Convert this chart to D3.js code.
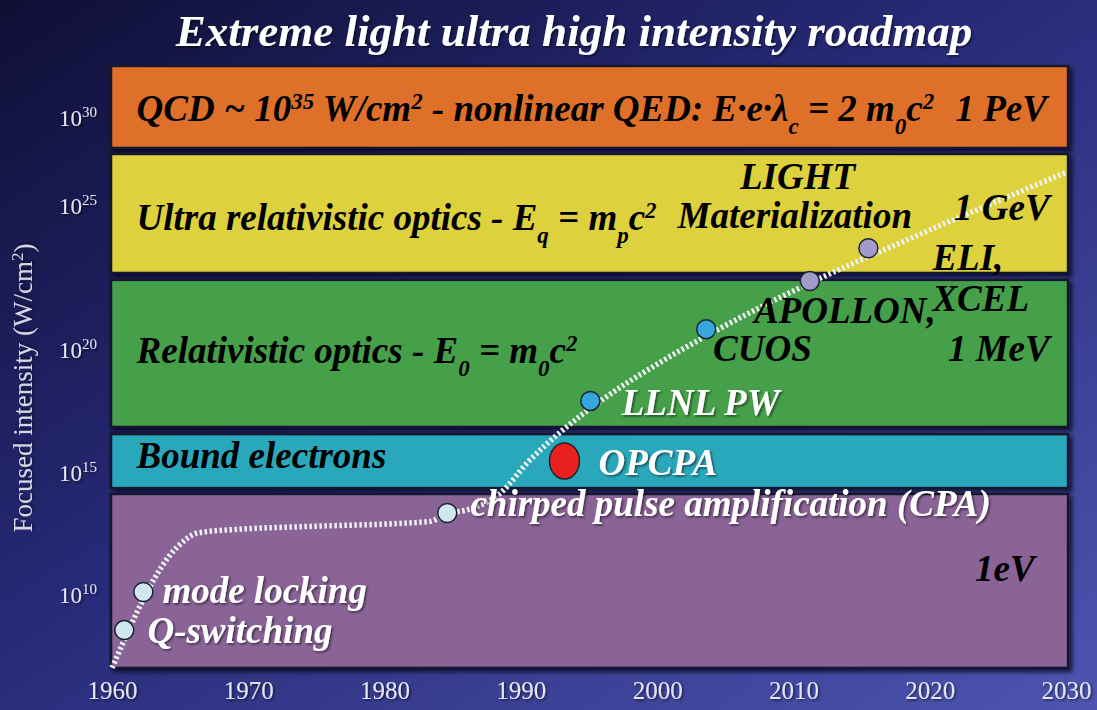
<!DOCTYPE html>
<html>
<head>
<meta charset="utf-8">
<script src="https://cdn.jsdelivr.net/npm/d3@7"></script>
<style>
  html, body { margin: 0; padding: 0; background: #1a1a48; }
  svg { display: block; }
  text { font-family: "Liberation Serif", "Times New Roman", serif; }
</style>
</head>
<body>
<div id="chart"></div>
<script>
// ---- data ----
// intensity is given as log10 of W/cm^2
var years = [1960, 1970, 1980, 1990, 2000, 2010, 2020, 2030];
var expTicks = [10, 15, 20, 25, 30];

// regimes: [bottom, top] in log10 intensity
var bandNames = ["QCD", "Ultra relativistic", "Relativistic", "Bound electrons", "1eV"];
var bandLow   = [28.24, 22.64, 16.83, 14.34, 6.97];
var bandHigh  = [32.9, 27.9, 22.4, 16.54, 14.1];
var bandColors = ["#df6f2b", "#ddd13d", "#45a04a", "#29a8bb", "#8a6497"];

// dotted roadmap curve
var trendYear = [1960, 1964.8, 1966.3, 1969.5, 1974, 1983.3, 1984.6, 1986, 1988.5, 1990.6, 1993, 1995.8, 2000.2, 2004.4, 2011.2, 2017.8, 2030.1];
var trendExp  = [6.97, 11.93, 12.5, 12.66, 12.76, 12.97, 13.3, 13.44, 14.14, 15.45, 16.67, 17.87, 19.45, 20.66, 22.29, 23.68, 26.88];

// milestones
var msName = ["Q-switching", "mode locking", "CPA", "OPCPA", "LLNL PW", "CUOS", "APOLLON", "ELI"];
var msYear = [1960.9, 1962.3, 1984.6, 1993.2, 1995.1, 2003.6, 2011.2, 2015.5];
var msExp  = [8.52, 10.08, 13.32, 15.45, 17.89, 20.69, 22.36, 23.5];
var msFill = ["#cfe7ee", "#cfe7ee", "#cfe7ee", "#e8211f", "#37a6df", "#37a6df", "#a19bca", "#a19bca"];

var W = 1097, H = 710;

var x = d3.scaleLinear().domain([1960, 2030]).range([112, 1066]);
// the slide's intensity axis is hand drawn, so it is piecewise
var y = d3.scaleLinear().domain(expTicks).range([594, 472, 349, 205, 117]);

var svg = d3.select("#chart").append("svg")
    .attr("width", W)
    .attr("height", H);

var defs = svg.append("defs");
var grad = defs.append("linearGradient")
    .attr("id", "bg")
    .attr("x1", "0").attr("y1", "0")
    .attr("x2", "1").attr("y2", "1");
grad.append("stop").attr("offset", "0%").attr("stop-color", "#0f0f35");
grad.append("stop").attr("offset", "45%").attr("stop-color", "#272a78");
grad.append("stop").attr("offset", "100%").attr("stop-color", "#4d55b0");

var sh = defs.append("filter").attr("id", "shadow")
    .attr("x", "-5%").attr("y", "-10%").attr("width", "115%").attr("height", "130%");
sh.append("feDropShadow").attr("dx", 3).attr("dy", 3).attr("stdDeviation", 2)
    .attr("flood-color", "#000010").attr("flood-opacity", 0.7);

var tsh = defs.append("filter").attr("id", "tshadow");
tsh.append("feDropShadow").attr("dx", 1.5).attr("dy", 1.5).attr("stdDeviation", 1)
    .attr("flood-color", "#000").attr("flood-opacity", 0.55);

svg.append("rect").attr("width", W).attr("height", H).attr("fill", "url(#bg)");

// title
svg.append("text")
    .attr("x", 574)
    .attr("y", 46)
    .attr("text-anchor", "middle")
    .attr("fill", "#fff")
    .attr("font-size", 45)
    .attr("font-weight", "bold")
    .attr("font-style", "italic")
    .attr("filter", "url(#tshadow)")
    .text("Extreme light ultra high intensity roadmap");

// bands
svg.selectAll("rect.band")
  .data(bandNames)
  .enter()
  .append("rect")
    .attr("class", "band")
    .attr("x", x(1960) - 1)
    .attr("width", x(2030.15) - x(1960) + 1)
    .attr("y", function(d, i) { return y(bandHigh[i]) })
    .attr("height", function(d, i) { return y(bandLow[i]) - y(bandHigh[i]) })
    .attr("fill", function(d, i) { return bandColors[i] })
    .attr("stroke", "#15152e")
    .attr("stroke-width", 2.5)
    .attr("filter", "url(#shadow)");

// x axis
var xAxis = svg.append("g")
    .attr("transform", "translate(0,683)")
    .call(d3.axisBottom(x).tickValues(years).tickFormat(d3.format("d")).tickSize(0));
xAxis.select(".domain").remove();
xAxis.selectAll("text")
    .attr("fill", "#e6e6f2")
    .attr("font-size", 25)
    .attr("font-family", "Liberation Serif")
    .attr("dy", "0.5em")
    .attr("filter", "url(#tshadow)");

// y axis with 10^n labels
var yAxis = svg.append("g")
    .attr("transform", "translate(97,0)")
    .call(d3.axisLeft(y).tickValues(expTicks).tickSize(0).tickFormat(""));
yAxis.select(".domain").remove();
yAxis.selectAll(".tick text").each(function(d) {
  var t = d3.select(this)
      .attr("fill", "#e4e4f2")
      .attr("font-size", 23)
      .attr("font-family", "Liberation Serif")
      .attr("x", 0)
      .attr("dy", "0.35em")
      .attr("text-anchor", "end")
      .attr("filter", "url(#tshadow)");
  t.append("tspan").text("10");
  t.append("tspan").attr("font-size", 15).attr("dy", "-0.6em").text(d);
});

svg.append("text")
    .attr("transform", "translate(32,388) rotate(-90)")
    .attr("text-anchor", "middle")
    .attr("fill", "#d6d6e8")
    .attr("font-size", 27)
    .attr("filter", "url(#tshadow)")
    .call(function(t) {
      t.append("tspan").text("Focused intensity (W/cm");
      t.append("tspan").attr("font-size", 17).attr("dy", "-0.55em").text("2");
      t.append("tspan").attr("dy", "0.4em").text(")");
    });

// roadmap curve
var line = d3.line()
    .x(function(d) { return x(d[0]) })
    .y(function(d) { return y(d[1]) })
    .curve(d3.curveMonotoneX);

svg.append("path")
    .datum(d3.zip(trendYear, trendExp))
    .attr("d", line)
    .attr("fill", "none")
    .attr("stroke", "#eef2f2")
    .attr("stroke-width", 5.5)
    .attr("stroke-dasharray", "2.5,2.5");

// labels: segments are [text, kind] where kind "sup"/"sub"
function rich(sel, parts, baseSize) {
  parts.forEach(function(p) {
    var s = sel.append("tspan").text(p[0]);
    if (p[1] === "sup") s.attr("font-size", baseSize * 0.62).attr("baseline-shift", "super");
    if (p[1] === "sub") s.attr("font-size", baseSize * 0.62).attr("baseline-shift", "sub");
  });
}

var fs = 37;
var labels = [
  {yr: 1961.8, e: 30.51, anchor: "start", color: "#000", parts: [["QCD ~ 10"], ["35", "sup"], [" W/cm"], ["2", "sup"], [" - nonlinear QED: E·e·λ"], ["c", "sub"], [" = 2 m"], ["0", "sub"], ["c"], ["2", "sup"]]},
  {yr: 2028.6, e: 30.51, anchor: "end", color: "#000", parts: [["1 PeV"]]},
  {yr: 1961.8, e: 24.58, anchor: "start", color: "#000", parts: [["Ultra relativistic optics - E"], ["q", "sub"], [" = m"], ["p", "sub"], ["c"], ["2", "sup"]]},
  {yr: 2010.3, e: 26.66, anchor: "middle", color: "#000", parts: [["LIGHT"]]},
  {yr: 2010.1, e: 24.65, anchor: "middle", color: "#000", parts: [["Materialization"]]},
  {yr: 2028.8, e: 24.93, anchor: "end", color: "#000", parts: [["1 GeV"]]},
  {yr: 2020.2, e: 23.19, anchor: "start", color: "#000", parts: [["ELI,"]]},
  {yr: 2020.2, e: 21.77, anchor: "start", color: "#000", parts: [["XCEL"]]},
  {yr: 2007.1, e: 21.35, anchor: "start", color: "#000", parts: [["APOLLON,"]]},
  {yr: 2004.1, e: 20.03, anchor: "start", color: "#000", parts: [["CUOS"]]},
  {yr: 2028.8, e: 20.03, anchor: "end", color: "#000", parts: [["1 MeV"]]},
  {yr: 1961.8, e: 19.95, anchor: "start", color: "#000", parts: [["Relativistic optics - E"], ["0", "sub"], [" = m"], ["0", "sub"], ["c"], ["2", "sup"]]},
  {yr: 1997.4, e: 17.85, anchor: "start", color: "#fff", parts: [["LLNL PW"]]},
  {yr: 1961.8, e: 15.69, anchor: "start", color: "#000", parts: [["Bound electrons"]]},
  {yr: 1995.7, e: 15.41, anchor: "start", color: "#fff", parts: [["OPCPA"]]},
  {yr: 1986.3, e: 13.73, anchor: "start", color: "#fff", parts: [["chirped pulse amplification (CPA)"]]},
  {yr: 2027.7, e: 11.07, anchor: "end", color: "#000", parts: [["1eV"]]},
  {yr: 1963.7, e: 10.16, anchor: "start", color: "#fff", parts: [["mode locking"]]},
  {yr: 1962.6, e: 8.52, anchor: "start", color: "#fff", parts: [["Q-switching"]]}
];

svg.selectAll("text.lab")
  .data(labels)
  .enter()
  .append("text")
    .attr("class", "lab")
    .attr("x", function(d) { return x(d.yr) })
    .attr("y", function(d) { return y(d.e) })
    .attr("dy", "0.35em")
    .attr("text-anchor", function(d) { return d.anchor })
    .attr("fill", function(d) { return d.color })
    .attr("font-size", fs)
    .attr("font-weight", "bold")
    .attr("font-style", "italic")
    .attr("filter", function(d) { return d.color === "#fff" ? "url(#tshadow)" : null })
    .each(function(d) { rich(d3.select(this), d.parts, fs) });

// milestone dots (OPCPA is a larger ellipse)
svg.selectAll("ellipse.ms")
  .data(msName)
  .enter()
  .append("ellipse")
    .attr("class", "ms")
    .attr("cx", function(d, i) { return x(msYear[i]) })
    .attr("cy", function(d, i) { return y(msExp[i]) })
    .attr("rx", function(d) { return d === "OPCPA" ? 15 : 9.5 })
    .attr("ry", function(d) { return d === "OPCPA" ? 18 : 9.5 })
    .attr("fill", function(d, i) { return msFill[i] })
    .attr("stroke", "#1c2430")
    .attr("stroke-width", 1.5);
</script>
</body>
</html>
